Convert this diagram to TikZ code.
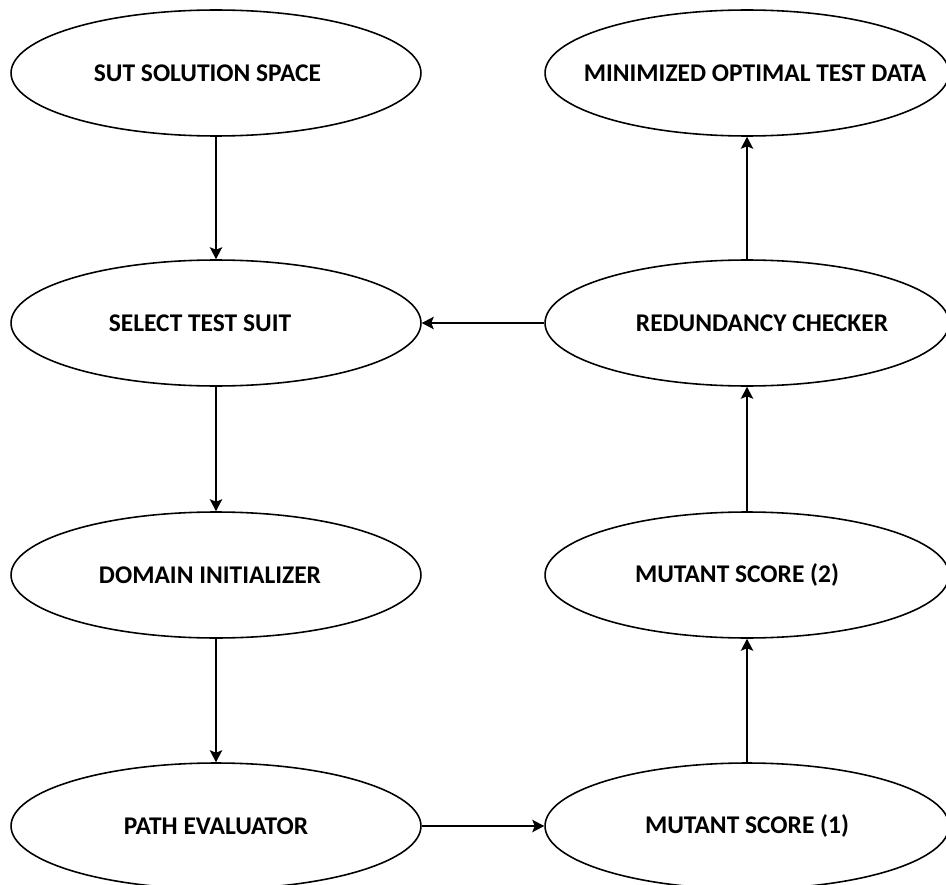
\documentclass[tikz,border=0pt]{standalone}
\usepackage{fontspec}
\setmainfont{Carlito}
\usetikzlibrary{shapes.geometric,arrows.meta}
\tikzset{
  stage/.style={ellipse,draw,line width=0.9pt,inner sep=0pt,
    minimum width=8.2cm,minimum height=2.52cm,
    font=\bfseries\fontsize{14.5}{16}\selectfont},
  stageR/.style={minimum width=8.08cm},
  flow/.style={-{Stealth[length=2.4mm,width=2.5mm,inset=0.5mm]},line width=0.7pt}
}
% zero-width label so long texts do not widen the ellipse; optional arg moves it sideways
\newcommand{\stagelabel}[2][0pt]{\makebox[0pt]{\hspace*{#1}#2}}

\begin{document}
\begin{tikzpicture}[x=0.02cm,y=-0.02cm]
  \useasboundingbox (0,0) rectangle (946,885);
  % left column, top to bottom
  \node[stage] (sut)  at (216,73)  {\stagelabel[-0.34cm]{SUT SOLUTION SPACE}};
  \node[stage] (sel)  at (216,323) {\stagelabel[-0.64cm]{SELECT TEST SUIT}};
  \node[stage] (dom)  at (216,575) {\stagelabel[-0.24cm]{DOMAIN INITIALIZER}};
  \node[stage] (path) at (216,826) {\stagelabel{PATH EVALUATOR}};
  % right column, bottom to top
  \node[stage,stageR] (ms1) at (747,826) {\stagelabel{MUTANT SCORE (1)}};
  \node[stage,stageR] (ms2) at (747,575) {\stagelabel[-0.4cm]{MUTANT SCORE (2)}};
  \node[stage,stageR] (red) at (747,323) {\stagelabel[0.6cm]{REDUNDANCY CHECKER}};
  \node[stage,stageR] (opt) at (747,73)  {\stagelabel[0.32cm]{MINIMIZED OPTIMAL TEST DATA}};
  % flow between stages
  \foreach \a/\b in {sut/sel,sel/dom,dom/path,path/ms1,ms1/ms2,ms2/red,red/opt,red/sel}
    \draw[flow] (\a) -- (\b);
\end{tikzpicture}
\end{document}
